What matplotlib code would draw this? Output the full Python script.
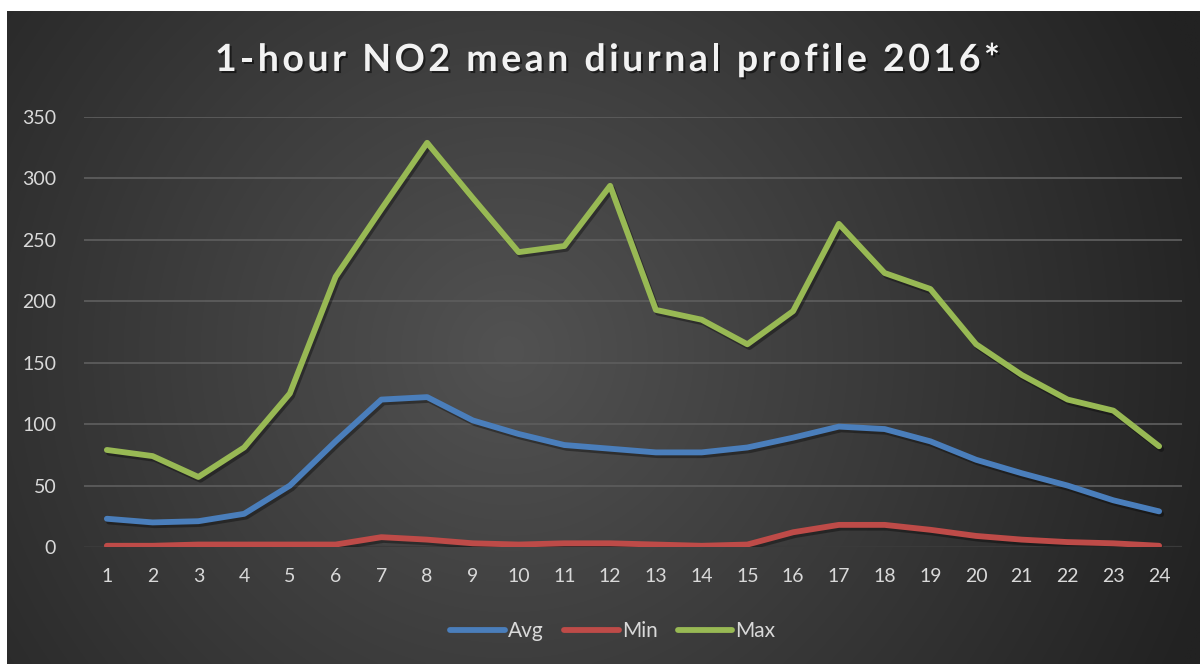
import numpy as np
import matplotlib
matplotlib.use("Agg")
import matplotlib.pyplot as plt
import matplotlib.patheffects as pe

hours = list(range(1, 25))
avg = [23, 20, 21, 27, 50, 86, 120, 122, 103, 92, 83, 80, 77, 77, 81, 89, 98, 96, 86, 71, 60, 50, 38, 29]
mins = [1, 1, 2, 2, 2, 2, 8, 6, 3, 2, 3, 3, 2, 1, 2, 12, 18, 18, 14, 9, 6, 4, 3, 1]
maxs = [79, 74, 57, 81, 125, 220, 275, 329, 284, 240, 245, 294, 193, 185, 165, 192, 263, 223, 210, 165, 140, 120, 111, 82]
yticks = [0, 50, 100, 150, 200, 250, 300, 350]
title = "1-hour NO2 mean diurnal profile 2016*"

W, H = 1200, 664
fig = plt.figure(figsize=(W / 100, H / 100), dpi=100)
fig.patch.set_facecolor("white")

# background panel with radial gradient
bg = fig.add_axes([7 / W, 0, 1 - 7 / W, 1 - 11 / H])
bg.set_axis_off()
yy, xx = np.mgrid[0:300, 0:600]
r = np.sqrt(((xx - 0.42 * 600) / 600) ** 2 + ((yy - 0.52 * 300) / 300 * 0.55) ** 2)
r = np.clip(r / 0.62, 0, 1)
c_in = np.array([0x52, 0x52, 0x52]) / 255
c_out = np.array([0x22, 0x22, 0x22]) / 255
img = c_in[None, None, :] * (1 - r[..., None]) + c_out[None, None, :] * r[..., None]
bg.imshow(img, aspect="auto", extent=[0, 1, 0, 1], interpolation="bilinear")
bg.set_xlim(0, 1)
bg.set_ylim(0, 1)

# main plot area
x0, x1 = 84, 1182
y_top, y_bot = 117, 547
ax = fig.add_axes([x0 / W, (H - y_bot) / H, (x1 - x0) / W, (y_bot - y_top) / H])
ax.patch.set_alpha(0)
ax.set_xlim(0.5, 24.5)
ax.set_ylim(0, 350)

font = "Lato"
for ypos in yticks[1:]:
    ax.axhline(ypos, color="#5c5c5c", lw=1.3, zorder=1)
ax.axhline(0, color="#3a3a3a", lw=1.6, zorder=1)

shadow = [pe.SimpleLineShadow(offset=(1.5, -2), shadow_color="black", alpha=0.35), pe.Normal()]
ax.plot(hours, avg, color="#4A7EBB", lw=4.2, solid_capstyle="round", solid_joinstyle="round",
        path_effects=shadow, zorder=3, label="Avg")
ax.plot(hours, mins, color="#BE4B48", lw=4.2, solid_capstyle="round", solid_joinstyle="round",
        path_effects=shadow, zorder=3, label="Min")
ax.plot(hours, maxs, color="#98B954", lw=4.2, solid_capstyle="round", solid_joinstyle="round",
        path_effects=shadow, zorder=3, label="Max")

ax.set_xticks(hours)
ax.set_xticklabels([str(h) for h in hours])
ax.set_yticks(yticks)
ax.set_yticklabels([str(v) for v in yticks])
ax.tick_params(axis="both", length=0, colors="#d9d9d9", labelsize=14)
ax.tick_params(axis="x", pad=15)
ax.tick_params(axis="y", pad=20)
for lab in ax.get_xticklabels() + ax.get_yticklabels():
    lab.set_fontfamily(font)
for s in ax.spines.values():
    s.set_visible(False)

leg = fig.legend(loc="center", bbox_to_anchor=(613 / W, 1 - 631 / H), ncol=3, frameon=False,
                 prop={"family": font, "size": 15}, handlelength=2.6, columnspacing=1.0,
                 handletextpad=0.15)
for t in leg.get_texts():
    t.set_color("#d9d9d9")
for l in leg.get_lines():
    l.set_linewidth(4.2)
    l.set_solid_capstyle("round")
    l.set_path_effects([])

# title with letter spacing
renderer = fig.canvas.get_renderer()
tkw = dict(color="#f2f2f2", fontsize=27, fontweight="bold", family=font)

def text_width(s):
    if not s:
        return 0.0
    t = fig.text(0, 0, s.replace(" ", "\u00a0"), **tkw)
    w = t.get_window_extent(renderer).width
    t.remove()
    return w

target_left, target_right = 215, 1000
base_w = text_width(title)
n = len(title)
spacing = (target_right - target_left - base_w) / (n - 1)
ty = 1 - 60 / H
for i, ch in enumerate(title):
    if ch == " ":
        continue
    xpx = target_left + text_width(title[:i]) + i * spacing
    fig.text(xpx / W, ty, ch, ha="left", va="center", **tkw,
             path_effects=[pe.withSimplePatchShadow(offset=(1.5, -1.5), shadow_rgbFace="black", alpha=0.5)])

fig.savefig("out.png", dpi=100, facecolor=fig.get_facecolor())
